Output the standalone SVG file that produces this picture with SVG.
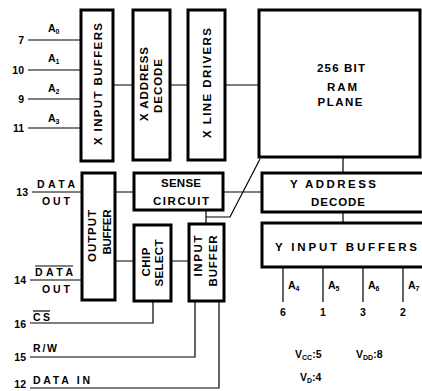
<svg xmlns="http://www.w3.org/2000/svg" width="422" height="391" viewBox="0 0 422 391">
<style>
.box{fill:#fff;stroke:#000;stroke-width:3}
.ln{fill:none;stroke:#000;stroke-width:1.2}
text{font-family:"Liberation Sans",Arial,sans-serif;font-weight:bold;fill:#000}
.t{font-size:11.5px}
.p{font-size:10.5px}
.s{font-size:7px}
.ov{stroke:#000;stroke-width:1.2}
</style>
<rect width="422" height="391" fill="#fff"/>
<g id="connectors">
<path class="ln" d="M28 40H81M28 70H81M28 99H81M28 128H81"/>
<path class="ln" d="M113 85H133M170 85H188M225 85H259"/>
<path class="ln" d="M32 192H82M30 280H82"/>
<path class="ln" d="M115 192H134M223 192H262"/>
<path class="ln" d="M115 261H134M171 261H189"/>
<path class="ln" d="M206 210V224M206 217H230L260 159"/>
<path class="ln" d="M343 157V173M343 212V223"/>
<path class="ln" d="M283 267V302M323 267V302M363 267V302M403 267V302"/>
<path class="ln" d="M30 323H153V301M30 357H195V301M30 388H219V301"/>
</g>
<g id="x-input-buffers">
<rect class="box" x="81" y="10" width="32" height="151"/>
<text class="t" transform="translate(98,84) rotate(-90)" y="4" text-anchor="middle" textLength="122" lengthAdjust="spacing">X INPUT BUFFERS</text>
</g>
<g id="x-address-decode">
<rect class="box" x="133" y="10" width="37" height="150"/>
<text class="t" transform="translate(144,84) rotate(-90)" y="4" text-anchor="middle" textLength="74" lengthAdjust="spacing">X ADDRESS</text>
<text class="t" transform="translate(158,86) rotate(-90)" y="4" text-anchor="middle" textLength="54" lengthAdjust="spacing">DECODE</text>
</g>
<g id="x-line-drivers">
<rect class="box" x="188" y="10" width="37" height="150"/>
<text class="t" transform="translate(207,83) rotate(-90)" y="4" text-anchor="middle" textLength="110" lengthAdjust="spacing">X LINE DRIVERS</text>
</g>
<g id="ram-plane">
<rect class="box" x="259" y="10" width="161" height="147"/>
<text class="t" x="341" y="72" text-anchor="middle" textLength="48" lengthAdjust="spacing">256 BIT</text>
<text class="t" x="342" y="91" text-anchor="middle" textLength="30" lengthAdjust="spacing">RAM</text>
<text class="t" x="340" y="106" text-anchor="middle" textLength="45" lengthAdjust="spacing">PLANE</text>
</g>
<g id="output-buffer">
<rect class="box" x="82" y="173" width="33" height="127"/>
<text class="t" transform="translate(92,236) rotate(-90)" y="4" text-anchor="middle" textLength="52" lengthAdjust="spacing">OUTPUT</text>
<text class="t" transform="translate(107,232) rotate(-90)" y="4" text-anchor="middle" textLength="45" lengthAdjust="spacing">BUFFER</text>
</g>
<g id="sense-circuit">
<rect class="box" x="134" y="173" width="89" height="37"/>
<text class="t" x="181" y="187" text-anchor="middle" textLength="40" lengthAdjust="spacing">SENSE</text>
<text class="t" x="181" y="205" text-anchor="middle" textLength="56" lengthAdjust="spacing">CIRCUIT</text>
</g>
<g id="chip-select">
<rect class="box" x="134" y="225" width="37" height="76"/>
<text class="t" transform="translate(146,262) rotate(-90)" y="4" text-anchor="middle" textLength="29" lengthAdjust="spacing">CHIP</text>
<text class="t" transform="translate(159,263) rotate(-90)" y="4" text-anchor="middle" textLength="47" lengthAdjust="spacing">SELECT</text>
</g>
<g id="input-buffer">
<rect class="box" x="189" y="224" width="35" height="77"/>
<text class="t" transform="translate(198,256) rotate(-90)" y="4" text-anchor="middle" textLength="41" lengthAdjust="spacing">INPUT</text>
<text class="t" transform="translate(213,261) rotate(-90)" y="4" text-anchor="middle" textLength="51" lengthAdjust="spacing">BUFFER</text>
</g>
<g id="y-address-decode">
<rect class="box" x="262" y="173" width="162" height="39"/>
<text class="t" x="333" y="188" text-anchor="middle" textLength="86" lengthAdjust="spacing">Y ADDRESS</text>
<text class="t" x="338" y="206" text-anchor="middle" textLength="54" lengthAdjust="spacing">DECODE</text>
</g>
<g id="y-input-buffers">
<rect class="box" x="262" y="223" width="162" height="44"/>
<text class="t" x="346" y="251" text-anchor="middle" textLength="142" lengthAdjust="spacing">Y INPUT BUFFERS</text>
</g>
<g id="pins-left">
<text class="p" x="24" y="44" text-anchor="end">7</text>
<text class="p" x="24" y="74" text-anchor="end">10</text>
<text class="p" x="24" y="103" text-anchor="end">9</text>
<text class="p" x="24" y="132" text-anchor="end">11</text>
<text class="p" x="48" y="32">A<tspan class="s" dy="2">0</tspan></text>
<text class="p" x="48" y="62">A<tspan class="s" dy="2">1</tspan></text>
<text class="p" x="48" y="92">A<tspan class="s" dy="2">2</tspan></text>
<text class="p" x="48" y="122">A<tspan class="s" dy="2">3</tspan></text>
<text class="p" x="28" y="196" text-anchor="end">13</text>
<text class="p" x="37" y="188" textLength="38" lengthAdjust="spacing">DATA</text>
<text class="p" x="42" y="205" textLength="28" lengthAdjust="spacing">OUT</text>
<text class="p" x="26" y="284" text-anchor="end">14</text>
<text class="p" x="35" y="276" textLength="38" lengthAdjust="spacing">DATA</text>
<line class="ov" x1="35" y1="266" x2="73" y2="266"/>
<text class="p" x="42" y="293" textLength="28" lengthAdjust="spacing">OUT</text>
<text class="p" x="26" y="328" text-anchor="end">16</text>
<text class="p" x="33" y="321" textLength="17" lengthAdjust="spacing">CS</text>
<line class="ov" x1="33" y1="311" x2="50" y2="311"/>
<text class="p" x="26" y="361" text-anchor="end">15</text>
<text class="p" x="33" y="352" textLength="24" lengthAdjust="spacing">R/W</text>
<text class="p" x="26" y="388" text-anchor="end">12</text>
<text class="p" x="33" y="384" textLength="57" lengthAdjust="spacing">DATA IN</text>
</g>
<g id="pins-bottom">
<text class="p" x="288" y="289">A<tspan class="s" dy="2">4</tspan></text>
<text class="p" x="328" y="289">A<tspan class="s" dy="2">5</tspan></text>
<text class="p" x="368" y="289">A<tspan class="s" dy="2">6</tspan></text>
<text class="p" x="408" y="289">A<tspan class="s" dy="2">7</tspan></text>
<text class="p" x="283" y="316" text-anchor="middle">6</text>
<text class="p" x="323" y="316" text-anchor="middle">1</text>
<text class="p" x="363" y="316" text-anchor="middle">3</text>
<text class="p" x="403" y="316" text-anchor="middle">2</text>
<text class="p" x="295" y="358">V<tspan class="s" dy="2">CC</tspan><tspan dy="-2">:5</tspan></text>
<text class="p" x="356" y="358">V<tspan class="s" dy="2">DD</tspan><tspan dy="-2">:8</tspan></text>
<text class="p" x="300" y="381">V<tspan class="s" dy="2">D</tspan><tspan dy="-2">:4</tspan></text>
</g>
</svg>
